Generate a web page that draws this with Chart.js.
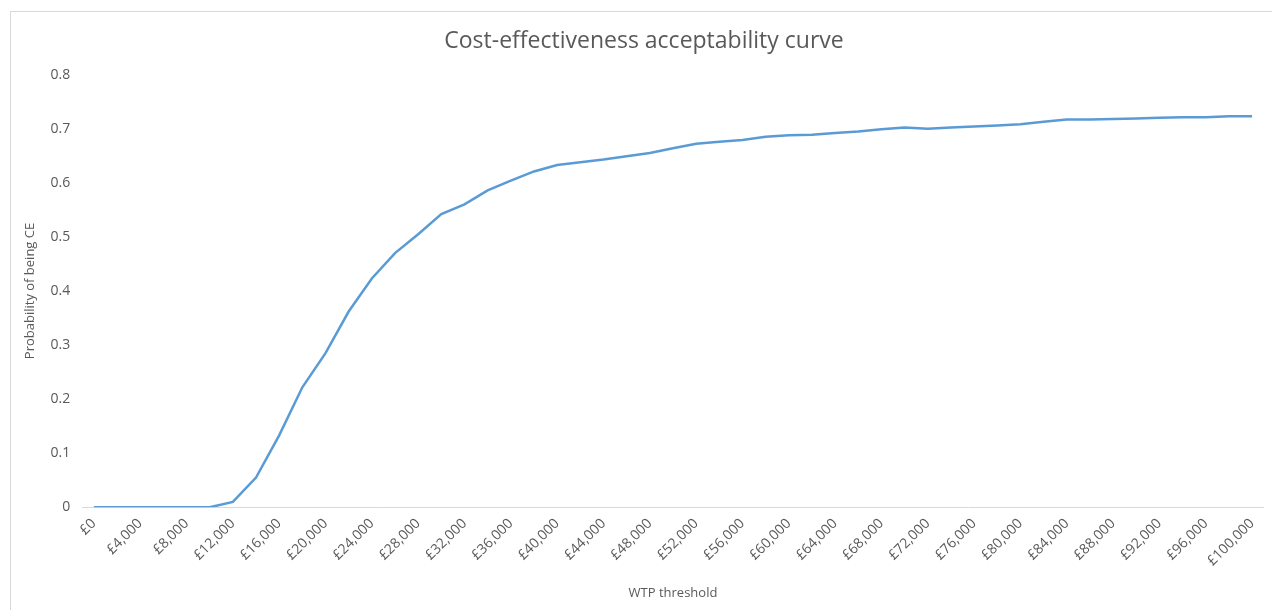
<!DOCTYPE html>
<html>
<head>
<meta charset="utf-8">
<script src="https://cdn.jsdelivr.net/npm/chart.js@4"></script>
<style>
body { margin: 0; background: #fff; overflow: hidden; }
#frame { position: absolute; left: 10px; top: 11px; width: 1262px; height: 599px; border-top: 1px solid #d9d9d9; border-left: 1px solid #d9d9d9; }
#wrap { position: absolute; left: 0; top: 0; width: 1272px; height: 610px; }
</style>
</head>
<body>
<div id="frame"></div>
<div id="wrap"><canvas id="ceac"></canvas></div>
<script>

// WTP thresholds, £0 to £100,000 in steps of £2,000
let wtp = [
0, 2000, 4000, 6000, 8000, 10000, 12000, 14000, 16000, 18000,
20000, 22000, 24000, 26000, 28000, 30000, 32000, 34000, 36000, 38000,
40000, 42000, 44000, 46000, 48000, 50000, 52000, 54000, 56000, 58000,
60000, 62000, 64000, 66000, 68000, 70000, 72000, 74000, 76000, 78000,
80000, 82000, 84000, 86000, 88000, 90000, 92000, 94000, 96000, 98000,
100000
]

let probCE = [
0, 0, 0, 0, 0, 0, 0.01, 0.055, 0.133, 0.222,
0.285, 0.362, 0.423, 0.47, 0.505, 0.542, 0.56, 0.586, 0.604, 0.621,
0.633, 0.638, 0.643, 0.649, 0.655, 0.664, 0.672, 0.676, 0.679, 0.685,
0.688, 0.689, 0.692, 0.695, 0.699, 0.702, 0.700, 0.702, 0.704, 0.706,
0.708, 0.713, 0.717, 0.717, 0.718, 0.719, 0.720, 0.721, 0.721, 0.723,
0.723
]

let yTicks = [0, 0.1, 0.2, 0.3, 0.4, 0.5, 0.6, 0.7, 0.8]

let labels = wtp.map(v => "£" + v.toLocaleString("en-GB"))

const grey = "#595959"
const font = "'Open Sans', 'Noto Sans', sans-serif"

const ctx = document.getElementById("ceac").getContext("2d")

const chart = new Chart(ctx, {

type: "line",

data: {
labels: labels,
datasets: [{
label: "CEAC",
data: probCE,
borderColor: "#5b9bd5",
borderWidth: 2.5,
pointRadius: 0,
fill: false,
tension: 0
}]
},

options: {
responsive: true,
maintainAspectRatio: false,
animation: false,
layout: { padding: { left: 22, right: 6, top: 28, bottom: 9 } },
plugins: {
legend: { display: false },
tooltip: { enabled: false },
title: {
display: true,
text: "Cost-effectiveness acceptability curve",
color: grey,
font: { family: font, size: 23, weight: "normal" },
padding: { top: 0, bottom: 19 }
}
},
scales: {
x: {
offset: true,
grid: { display: false, drawTicks: false },
border: { display: true, color: "#d9d9d9", width: 1 },
ticks: {
autoSkip: false,
maxRotation: 45,
minRotation: 45,
color: grey,
padding: 8,
font: { family: font, size: 14 },
callback: function (val, i) { return i % 2 === 0 ? labels[i] : "" }
},
title: {
display: true,
text: "WTP threshold",
color: grey,
font: { family: font, size: 13 },
padding: { top: 8, bottom: 0 }
}
},
y: {
min: 0,
max: 0.8,
afterBuildTicks: axis => { axis.ticks = yTicks.map(v => ({ value: v })) },
grid: { display: false, drawTicks: false },
border: { display: false },
ticks: {
color: grey,
padding: 12,
font: { family: font, size: 14 },
callback: v => String(v)
},
title: {
display: true,
text: "Probability of being CE",
color: grey,
font: { family: font, size: 13 },
padding: { top: 0, bottom: 1 }
}
}
}
}

})

</script>
</body>
</html>
